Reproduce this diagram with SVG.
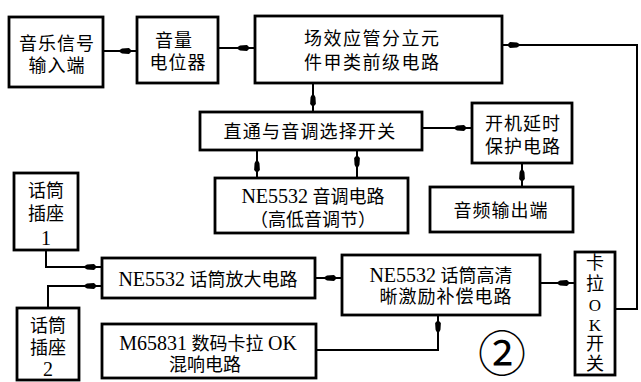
<svg xmlns="http://www.w3.org/2000/svg" width="641" height="382" viewBox="0 0 641 382">
<style>
.box{fill:#fff;stroke:#000;stroke-width:2.8}
.t{font-family:"Liberation Serif","Noto Sans CJK SC",serif;font-size:18px;fill:#000;text-anchor:middle}
.l{font-size:20px}
.c{fill:none;stroke:#000;stroke-width:2}
</style>
<defs>
<marker id="ah" markerUnits="userSpaceOnUse" markerWidth="22" markerHeight="12" refX="19" refY="6" orient="auto">
<path d="M0,6 L4,3.6 L11,3.1 L14,6 L11,8.9 L4,8.4 Z" fill="#000"/>
</marker>
</defs>
<rect width="641" height="382" fill="#fff"/>
<g id="connectors">
<path class="c" d="M103,51 H137" marker-end="url(#ah)"/>
<path class="c" d="M218,48 H255" marker-end="url(#ah)"/>
<path class="c" d="M313,83 V112" marker-end="url(#ah)"/>
<path class="c" d="M257,150 V178" marker-end="url(#ah)"/>
<path class="c" d="M357,178 V150" marker-end="url(#ah)"/>
<path class="c" d="M422,128 H472" marker-end="url(#ah)"/>
<path class="c" d="M522,163 V187" marker-end="url(#ah)"/>
<path class="c" d="M46,250 V267 H102" marker-end="url(#ah)"/>
<path class="c" d="M48,308 V286 H102" marker-end="url(#ah)"/>
<path class="c" d="M315,278 H342" marker-end="url(#ah)"/>
<path class="c" d="M316,350 H438 V315" marker-end="url(#ah)"/>
<path class="c" d="M540,283 H575" marker-end="url(#ah)"/>
<path class="c" d="M615,309 H637 V45 H502" marker-end="url(#ah)"/>
</g>
<g id="music-in">
<rect class="box" x="9" y="17" width="94" height="70"/>
<text class="t" x="57" y="50" letter-spacing="1">音乐信号</text>
<text class="t" x="57" y="72" letter-spacing="1">输入端</text>
</g>
<g id="volume">
<rect class="box" x="137" y="17" width="81" height="66"/>
<text class="t" x="174" y="47" letter-spacing="1">音量</text>
<text class="t" x="178" y="69" letter-spacing="1">电位器</text>
</g>
<g id="preamp">
<rect class="box" x="255" y="16" width="247" height="67"/>
<text class="t" x="304" y="45" letter-spacing="1.5" style="text-anchor:start">场效应管分立元</text>
<text class="t" x="304" y="69" letter-spacing="1.5" style="text-anchor:start">件甲类前级电路</text>
</g>
<g id="selector">
<rect class="box" x="200" y="112" width="222" height="38"/>
<text class="t" x="310" y="138" letter-spacing="1.2">直通与音调选择开关</text>
</g>
<g id="protect">
<rect class="box" x="472" y="103" width="100" height="60"/>
<text class="t" x="523" y="130" letter-spacing="1">开机延时</text>
<text class="t" x="523" y="153" letter-spacing="1">保护电路</text>
</g>
<g id="audio-out">
<rect class="box" x="430" y="187" width="143" height="45"/>
<text class="t" x="501" y="217" letter-spacing="1">音频输出端</text>
</g>
<g id="tone">
<rect class="box" x="215" y="178" width="193" height="55"/>
<text class="t" x="313" y="203"><tspan class="l">NE5532</tspan> 音调电路</text>
<text class="t" x="313" y="226">（高低音调节）</text>
</g>
<g id="mic1">
<rect class="box" x="14" y="173" width="64" height="77"/>
<text class="t" x="46" y="197">话筒</text>
<text class="t" x="46" y="220">插座</text>
<text class="t l" x="46" y="245">1</text>
</g>
<g id="mic2">
<rect class="box" x="17" y="308" width="62" height="72"/>
<text class="t" x="48" y="332">话筒</text>
<text class="t" x="48" y="354">插座</text>
<text class="t l" x="48" y="376">2</text>
</g>
<g id="mic-amp">
<rect class="box" x="102" y="258" width="213" height="40"/>
<text class="t" x="208" y="286"><tspan class="l">NE5532</tspan> 话筒放大电路</text>
</g>
<g id="echo">
<rect class="box" x="102" y="324" width="214" height="54"/>
<text class="t" x="208" y="350"><tspan class="l">M65831</tspan> 数码卡拉 <tspan class="l">OK</tspan></text>
<text class="t" x="205" y="371">混响电路</text>
</g>
<g id="exciter">
<rect class="box" x="342" y="255" width="198" height="60"/>
<text class="t" x="441" y="282"><tspan class="l">NE5532</tspan> 话筒高清</text>
<text class="t" x="446" y="303" letter-spacing="1">晰激励补偿电路</text>
</g>
<g id="karaoke-switch">
<rect class="box" x="575" y="252" width="40" height="123"/>
<text class="t" x="595" y="269">卡</text>
<text class="t" x="595" y="290">拉</text>
<text class="t" x="595" y="311" style="font-size:17px">O</text>
<text class="t" x="595" y="331" style="font-size:17px">K</text>
<text class="t" x="595" y="350">开</text>
<text class="t" x="595" y="370">关</text>
</g>
<text class="t" x="502" y="371" style="font-size:48px;font-family:'Noto Sans CJK SC',sans-serif">②</text>
</svg>
